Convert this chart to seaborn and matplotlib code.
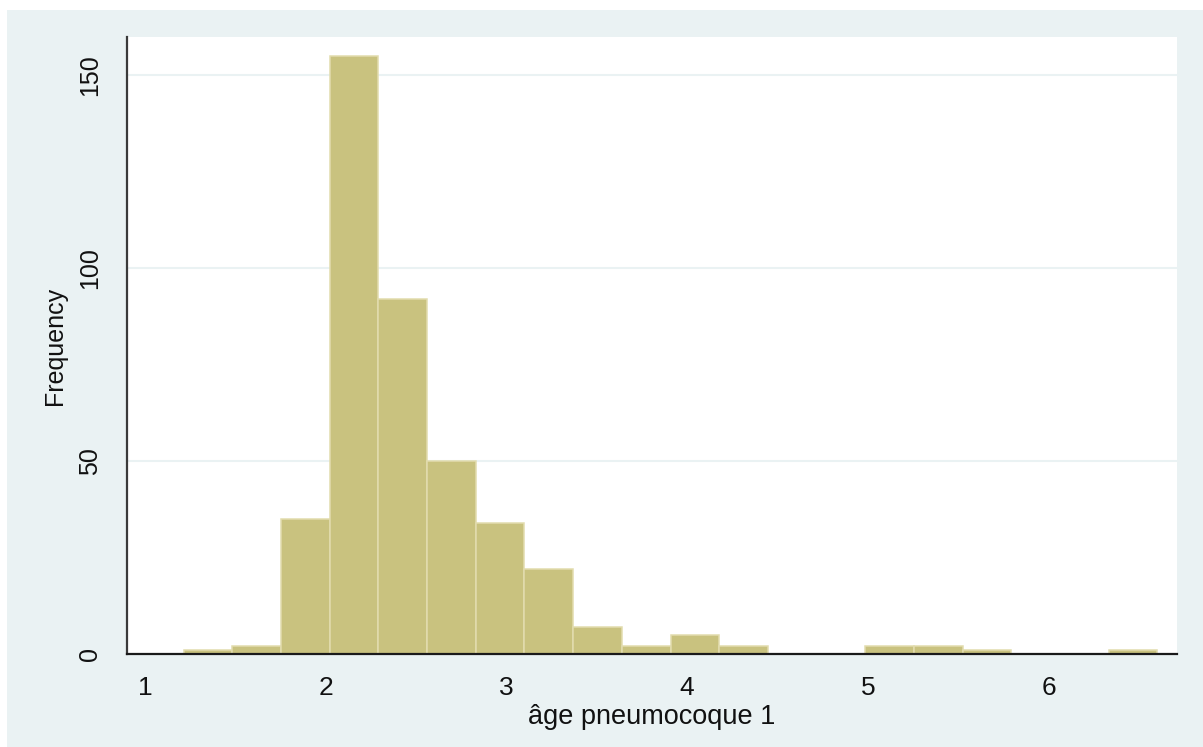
import numpy as np
import pandas as pd
import matplotlib
matplotlib.use("Agg")
import matplotlib.pyplot as plt
import seaborn as sns
from matplotlib.patches import Rectangle

# histogram: 20 bins, start ~1.213, width ~0.2695
bin_start = 1.213
bin_width = 0.2695
counts = [1, 2, 35, 155, 92, 50, 34, 22, 7, 2, 5, 2, 0, 0, 2, 2, 1, 0, 0, 1]
x_ticks = [1, 2, 3, 4, 5, 6]
y_ticks = [0, 50, 100, 150]
x_label = "âge pneumocoque 1"
y_label = "Frequency"

edges = bin_start + bin_width * np.arange(len(counts) + 1)
centers = (edges[:-1] + edges[1:]) / 2
df = pd.DataFrame({"age": centers, "n": counts})

sns.set_style("white")
plt.rcParams['font.family'] = ['Liberation Sans', 'DejaVu Sans']

bg = "#eaf2f3"
fig = plt.figure(figsize=(12.03, 7.47), dpi=100)
fig.patches.append(Rectangle((7 / 1203, 0), 1, 1 - 10 / 747, transform=fig.transFigure,
                             facecolor=bg, edgecolor="none", zorder=-10))
ax = fig.add_axes([127 / 1203, 1 - 654 / 747, (1177 - 127) / 1203, (654 - 37) / 747])
ax.set_facecolor("white")

# bins passed as a list: seaborn compares bins == "auto" when weights are used
sns.histplot(data=df, x="age", weights="n", bins=list(edges), ax=ax,
             color="#c9c27f", alpha=1, edgecolor="#e2dcae", linewidth=1.1, zorder=3)

ax.set_xlim(0.9, 6.711)
ax.set_ylim(0, 159.8)
ax.set_xticks(x_ticks)
ax.set_yticks(y_ticks)
ax.yaxis.grid(True, color=bg, linewidth=1.5, zorder=0)
ax.set_axisbelow(True)

for s in ["top", "right"]:
    ax.spines[s].set_visible(False)
ax.spines["left"].set_color("#3a3a3a")
ax.spines["left"].set_linewidth(1.6)
ax.spines["bottom"].set_color("#1a1a1a")
ax.spines["bottom"].set_linewidth(1.6)
ax.spines["left"].set_zorder(5)
ax.spines["bottom"].set_zorder(5)

ax.tick_params(axis="x", direction="out", length=8, width=1, color="#222222",
               labelsize=19, pad=8, labelcolor="#111111")
ax.tick_params(axis="y", direction="out", length=8, width=1, color="#222222",
               labelsize=18, pad=10, labelcolor="#111111")
for lbl in ax.get_yticklabels():
    lbl.set_rotation(90)
    lbl.set_va("center")

ax.set_xlabel(x_label, fontsize=19.5, color="#111111", labelpad=3)
ax.set_ylabel(y_label, fontsize=18, color="#111111", labelpad=8)

fig.savefig("out.png", dpi=100, facecolor="white")
